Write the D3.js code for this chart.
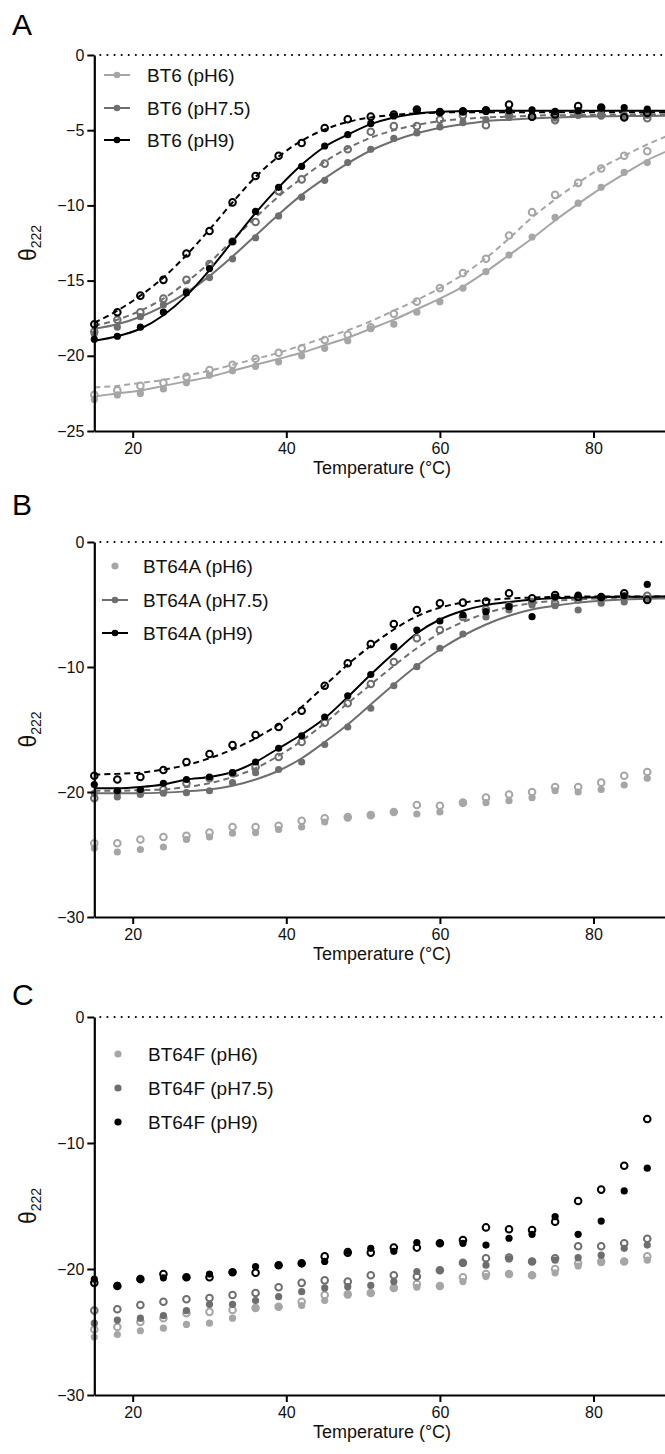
<!DOCTYPE html>
<html>
<head>
<meta charset="utf-8">
<script src="https://cdn.jsdelivr.net/npm/d3@7"></script>
<style>
  body { margin: 0; background: #fff; }
  svg { display: block; font-family: "Liberation Sans", Arial, sans-serif; }
</style>
</head>
<body>
<div id="chart"></div>
<script>
// temperatures (°C) of the measured points
var temps = [15, 18, 21, 24, 27, 30, 33, 36, 39, 42, 45, 48, 51, 54, 57, 60, 63, 66, 69, 72, 75, 78, 81, 84, 87]
// temperatures at which the fitted curves are read (run on to the axis end)
var fitTemps = [15, 18, 21, 24, 27, 30, 33, 36, 39, 42, 45, 48, 51, 54, 57, 60, 63, 66, 69, 72, 75, 78, 81, 84, 87, 90]

// ---- panel A : BT6 ----
var bt6_pH6_fill = [-22.9, -22.6, -22.5, -22.2, -21.8, -21.3, -21.0, -20.7, -20.4, -20.0, -19.5, -19.0, -18.2, -17.9, -17.1, -16.4, -15.5, -14.4, -13.3, -12.1, -10.8, -9.85, -8.8, -7.8, -7.15]
var bt6_pH6_open = [-22.6, -22.3, -22.0, -21.8, -21.4, -20.95, -20.6, -20.2, -19.8, -19.5, -18.95, -18.6, -18.1, -17.2, -16.4, -15.5, -14.5, -13.55, -12.0, -10.45, -9.3, -8.5, -7.55, -6.7, -6.4]
var bt6_pH6_fitFill = [-22.7, -22.5, -22.3, -22.0, -21.7, -21.4, -21.0, -20.6, -20.2, -19.8, -19.3, -18.8, -18.2, -17.6, -16.9, -16.2, -15.4, -14.4, -13.3, -12.2, -11.0, -9.9, -8.85, -7.9, -7.0, -6.3]
var bt6_pH6_fitOpen = [-22.1, -22.0, -21.8, -21.6, -21.3, -21.0, -20.6, -20.2, -19.8, -19.3, -18.8, -18.3, -17.7, -17.0, -16.3, -15.5, -14.6, -13.5, -12.2, -10.8, -9.6, -8.5, -7.5, -6.7, -5.95, -5.3]
var bt6_pH75_fill = [-18.55, -18.1, -17.4, -16.6, -15.7, -14.8, -13.55, -12.15, -10.7, -9.45, -8.33, -7.15, -6.27, -5.55, -5.18, -4.78, -4.5, -4.3, -4.15, -4.1, -4.2, -4.0, -4.05, -4.1, -4.0]
var bt6_pH75_open = [-18.4, -17.6, -17.1, -16.2, -14.95, -13.9, -12.4, -11.1, -9.05, -8.27, -7.22, -6.27, -5.1, -4.73, -4.73, -4.3, -4.0, -4.67, -4.0, -4.1, -4.33, -3.95, -4.0, -4.05, -4.2]
var bt6_pH75_fitFill = [-18.2, -17.9, -17.4, -16.7, -15.8, -14.7, -13.4, -12.0, -10.6, -9.3, -8.2, -7.2, -6.35, -5.7, -5.2, -4.85, -4.6, -4.4, -4.3, -4.2, -4.15, -4.1, -4.08, -4.05, -4.05, -4.04]
var bt6_pH75_fitOpen = [-18.0, -17.6, -17.0, -16.2, -15.1, -13.8, -12.3, -10.8, -9.4, -8.2, -7.1, -6.2, -5.5, -5.0, -4.65, -4.4, -4.25, -4.15, -4.1, -4.05, -4.0, -4.0, -3.98, -3.97, -3.96, -3.96]
var bt6_pH9_fill = [-18.9, -18.7, -18.1, -17.1, -15.8, -14.2, -12.4, -10.4, -8.8, -7.4, -6.05, -5.3, -4.55, -4.05, -3.7, -3.8, -3.75, -3.75, -3.7, -3.65, -3.75, -3.7, -3.5, -3.5, -3.6]
var bt6_pH9_open = [-17.9, -17.1, -16.0, -14.95, -13.2, -11.7, -9.8, -8.05, -6.7, -5.85, -4.85, -4.27, -4.1, -3.96, -3.62, -3.8, -3.75, -3.67, -3.29, -4.1, -3.96, -3.4, -3.49, -4.15, -3.85]
var bt6_pH9_fitFill = [-19.0, -18.7, -18.2, -17.3, -16.0, -14.3, -12.4, -10.5, -8.8, -7.3, -6.1, -5.3, -4.6, -4.15, -3.9, -3.78, -3.74, -3.72, -3.7, -3.7, -3.7, -3.7, -3.7, -3.7, -3.7, -3.7]
var bt6_pH9_fitOpen = [-17.8, -17.0, -16.0, -14.8, -13.3, -11.6, -9.8, -8.1, -6.75, -5.7, -4.95, -4.45, -4.15, -3.98, -3.88, -3.83, -3.8, -3.8, -3.8, -3.8, -3.8, -3.8, -3.8, -3.8, -3.8, -3.8]

// ---- panel B : BT64A ----
var bt64a_pH6_fill = [-24.5, -24.8, -24.6, -24.4, -23.8, -23.6, -23.3, -23.25, -23.0, -22.8, -22.4, -22.1, -21.84, -21.6, -21.76, -21.6, -20.9, -20.85, -20.7, -20.45, -19.9, -20.0, -19.8, -19.44, -18.9]
var bt64a_pH6_open = [-24.1, -24.1, -23.8, -23.6, -23.5, -23.25, -22.8, -22.8, -22.7, -22.3, -22.1, -22.0, -21.85, -21.6, -21.04, -21.1, -20.85, -20.45, -20.2, -20.0, -19.6, -19.6, -19.25, -18.7, -18.4]
var bt64a_pH75_fill = [-20.1, -20.4, -20.2, -20.1, -20.05, -19.9, -19.25, -18.45, -18.2, -17.6, -16.2, -14.8, -13.3, -11.5, -9.97, -8.5, -7.36, -6.0, -5.44, -5.04, -5.1, -5.44, -4.9, -4.8, -4.6]
var bt64a_pH75_open = [-20.5, -20.0, -19.9, -19.8, -19.3, -18.9, -18.5, -18.0, -17.2, -16.0, -14.45, -12.9, -11.36, -9.6, -7.7, -7.04, -6.0, -5.4, -5.1, -4.8, -4.9, -4.6, -4.5, -4.4, -4.3]
var bt64a_pH75_fitFill = [-20.1, -20.1, -20.1, -20.05, -19.95, -19.8, -19.5, -19.0, -18.3, -17.3, -16.0, -14.6, -13.0, -11.4, -9.9, -8.6, -7.5, -6.6, -5.9, -5.4, -5.1, -4.85, -4.7, -4.6, -4.55, -4.5]
var bt64a_pH75_fitOpen = [-19.9, -19.9, -19.85, -19.8, -19.6, -19.3, -18.8, -18.1, -17.1, -15.9, -14.5, -12.9, -11.4, -9.9, -8.5, -7.3, -6.4, -5.7, -5.2, -4.9, -4.7, -4.6, -4.5, -4.45, -4.4, -4.38]
var bt64a_pH9_fill = [-19.4, -19.9, -19.8, -19.3, -19.0, -18.8, -18.45, -17.6, -16.5, -15.5, -14.0, -12.3, -10.6, -8.37, -7.04, -6.32, -5.84, -5.57, -5.17, -5.97, -4.4, -4.24, -4.4, -4.3, -3.39]
var bt64a_pH9_open = [-18.7, -19.0, -18.8, -18.24, -17.6, -16.96, -16.24, -15.44, -14.8, -13.5, -11.5, -9.7, -8.16, -6.56, -5.44, -4.9, -4.85, -4.77, -4.1, -4.5, -4.24, -4.4, -4.4, -4.1, -4.64]
var bt64a_pH9_fitFill = [-19.7, -19.7, -19.6, -19.4, -19.0, -18.8, -18.4, -17.6, -16.5, -15.4, -14.1, -12.4, -10.6, -8.9, -7.3, -6.2, -5.5, -5.05, -4.8, -4.6, -4.5, -4.45, -4.4, -4.38, -4.37, -4.36]
var bt64a_pH9_fitOpen = [-18.6, -18.55, -18.45, -18.2, -17.85, -17.3, -16.6, -15.7, -14.6, -13.2, -11.5, -9.8, -8.3, -7.0, -5.95, -5.25, -4.85, -4.65, -4.52, -4.45, -4.4, -4.37, -4.35, -4.35, -4.35, -4.35]

// ---- panel C : BT64F ----
var bt64f_pH6_fill = [-25.4, -25.2, -24.9, -24.7, -24.4, -24.3, -23.9, -23.1, -23.0, -22.9, -22.5, -22.06, -21.9, -21.5, -21.45, -21.35, -21.0, -20.6, -20.4, -20.5, -20.3, -19.76, -19.5, -19.4, -19.3]
var bt64f_pH6_open = [-24.8, -24.6, -24.2, -23.9, -23.5, -23.4, -23.25, -23.1, -23.0, -22.6, -22.06, -22.0, -21.9, -21.5, -21.2, -21.35, -20.66, -20.4, -20.4, -20.5, -20.0, -19.55, -19.4, -19.4, -19.0]
var bt64f_pH75_fill = [-24.3, -24.05, -23.9, -23.7, -23.3, -22.8, -22.8, -22.5, -22.2, -21.8, -21.5, -21.4, -21.3, -21.0, -20.2, -20.1, -19.55, -19.7, -19.2, -19.4, -19.3, -19.1, -18.9, -18.36, -18.1]
var bt64f_pH75_open = [-23.3, -23.2, -22.86, -22.6, -22.4, -22.3, -22.06, -21.9, -21.45, -21.1, -20.9, -21.0, -20.5, -20.5, -20.6, -20.1, -19.5, -19.15, -19.1, -19.4, -19.15, -18.2, -18.2, -17.96, -17.6]
var bt64f_pH9_fill = [-20.8, -21.3, -20.8, -20.7, -20.66, -20.4, -20.26, -19.8, -19.7, -19.55, -19.4, -18.6, -18.36, -18.6, -17.9, -17.96, -17.96, -18.1, -17.56, -17.25, -15.85, -17.25, -16.2, -13.8, -12.0]
var bt64f_pH9_open = [-21.1, -21.35, -20.8, -20.4, -20.66, -20.66, -20.26, -20.3, -19.7, -19.55, -19.0, -18.7, -18.7, -18.3, -18.3, -17.96, -17.7, -16.7, -16.85, -16.9, -16.25, -14.6, -13.7, -11.8, -8.1]

// axis ticks and legend labels
var xTicks = [20, 40, 60, 80]
var yTicksA = [0, -5, -10, -15, -20, -25]
var yTicksBC = [0, -10, -20, -30]
var labelsA = ["BT6 (pH6)", "BT6 (pH7.5)", "BT6 (pH9)"]
var labelsB = ["BT64A (pH6)", "BT64A (pH7.5)", "BT64A (pH9)"]
var labelsC = ["BT64F (pH6)", "BT64F (pH7.5)", "BT64F (pH9)"]

var c_light = "#a6a6a6"
var c_mid = "#6e6e6e"
var c_black = "#000000"

var svg = d3.select("#chart").append("svg")
    .attr("width", 665)
    .attr("height", 1454)

function drawPanel(p) {
    var x = d3.scaleLinear().domain([15, 90]).range([94.3, 670.3])
    var y = d3.scaleLinear().domain(p.ydom).range([p.bottom, p.top])
    var g = svg.append("g")

    // panel letter
    g.append("text")
        .attr("x", 12).attr("y", p.letterY)
        .attr("font-size", 30).text(p.letter)

    // dotted zero line
    g.append("line")
        .attr("x1", x(15) + 6).attr("x2", 665)
        .attr("y1", y(0)).attr("y2", y(0))
        .attr("stroke", "#000").attr("stroke-width", 2)
        .attr("stroke-linecap", "round")
        .attr("stroke-dasharray", "0.1,7")

    var line = d3.line()
        .x((d, i) => x(fitTemps[i]))
        .y(d => y(d))
        .curve(d3.curveMonotoneX)

    // fit curves
    p.series.forEach(function(s) {
        if (s.fitFill) {
            g.append("path").attr("d", line(s.fitFill))
                .attr("fill", "none").attr("stroke", s.color).attr("stroke-width", 2)
        }
        if (s.fitOpen) {
            g.append("path").attr("d", line(s.fitOpen))
                .attr("fill", "none").attr("stroke", s.color).attr("stroke-width", 2)
                .attr("stroke-dasharray", "6,4")
        }
    })

    // points
    p.series.forEach(function(s) {
        g.append("g").selectAll("circle").data(s.fill).join("circle")
            .attr("cx", (d, i) => x(temps[i]))
            .attr("cy", d => y(d))
            .attr("r", 3.6)
            .attr("fill", s.color)
        g.append("g").selectAll("circle").data(s.open).join("circle")
            .attr("cx", (d, i) => x(temps[i]))
            .attr("cy", d => y(d))
            .attr("r", 3.3)
            .attr("fill", "none")
            .attr("stroke", s.color)
            .attr("stroke-width", 2)
    })

    // axes
    var yAxis = g.append("g")
        .attr("transform", `translate(${x(15)},0)`)
        .call(d3.axisLeft(y).tickValues(p.yticks).tickSize(7).tickPadding(3).tickSizeOuter(0))
    var xAxis = g.append("g")
        .attr("transform", `translate(0,${p.bottom})`)
        .call(d3.axisBottom(x).tickValues(xTicks).tickSize(7).tickPadding(5).tickSizeOuter(0))
    ;[yAxis, xAxis].forEach(function(a) {
        a.select(".domain").attr("stroke-width", 2.2)
        a.selectAll(".tick line").attr("stroke-width", 2)
        a.selectAll(".tick text").attr("font-size", 16).attr("font-family", "Liberation Sans, Arial, sans-serif").attr("fill", "#111")
    })

    // axis titles
    g.append("text")
        .attr("x", 382).attr("y", p.bottom + 43)
        .attr("text-anchor", "middle").attr("font-size", 18).attr("fill", "#111")
        .text("Temperature (°C)")

    var yl = g.append("text")
        .attr("transform", `translate(36,${(p.top + p.bottom) / 2}) rotate(-90)`)
        .attr("text-anchor", "middle").attr("font-size", 23).attr("fill", "#111")
    yl.append("tspan").text("θ")
    yl.append("tspan").attr("font-size", 14).attr("dy", 5).text("222")

    // legend
    p.series.forEach(function(s, i) {
        var ly = p.legY[i]
        var lg = g.append("g")
        if (s.fitFill) {
            lg.append("line")
                .attr("x1", p.legX - 13).attr("x2", p.legX + 13)
                .attr("y1", ly).attr("y2", ly)
                .attr("stroke", s.color).attr("stroke-width", 2)
        }
        lg.append("circle").attr("cx", p.legX).attr("cy", ly)
            .attr("r", s.fitFill ? 3.3 : 3.6).attr("fill", s.color)
        lg.append("text")
            .attr("x", p.legText).attr("y", ly + 7)
            .attr("font-size", 19).attr("fill", "#111")
            .text(p.labels[i])
    })
}

drawPanel({
    letter: "A", letterY: 35, top: 55, bottom: 431, ydom: [-25, 0], yticks: yTicksA,
    labels: labelsA, legY: [75, 108, 140], legX: 117, legText: 147,
    series: [
        {color: c_light, fill: bt6_pH6_fill, open: bt6_pH6_open, fitFill: bt6_pH6_fitFill, fitOpen: bt6_pH6_fitOpen},
        {color: c_mid, fill: bt6_pH75_fill, open: bt6_pH75_open, fitFill: bt6_pH75_fitFill, fitOpen: bt6_pH75_fitOpen},
        {color: c_black, fill: bt6_pH9_fill, open: bt6_pH9_open, fitFill: bt6_pH9_fitFill, fitOpen: bt6_pH9_fitOpen}
    ]
})

drawPanel({
    letter: "B", letterY: 515, top: 542, bottom: 917, ydom: [-30, 0], yticks: yTicksBC,
    labels: labelsB, legY: [566, 600, 633], legX: 115, legText: 143,
    series: [
        {color: c_light, fill: bt64a_pH6_fill, open: bt64a_pH6_open},
        {color: c_mid, fill: bt64a_pH75_fill, open: bt64a_pH75_open, fitFill: bt64a_pH75_fitFill, fitOpen: bt64a_pH75_fitOpen},
        {color: c_black, fill: bt64a_pH9_fill, open: bt64a_pH9_open, fitFill: bt64a_pH9_fitFill, fitOpen: bt64a_pH9_fitOpen}
    ]
})

drawPanel({
    letter: "C", letterY: 1005, top: 1017, bottom: 1395, ydom: [-30, 0], yticks: yTicksBC,
    labels: labelsC, legY: [1054, 1088, 1122], legX: 118, legText: 148,
    series: [
        {color: c_light, fill: bt64f_pH6_fill, open: bt64f_pH6_open},
        {color: c_mid, fill: bt64f_pH75_fill, open: bt64f_pH75_open},
        {color: c_black, fill: bt64f_pH9_fill, open: bt64f_pH9_open}
    ]
})
</script>
</body>
</html>
